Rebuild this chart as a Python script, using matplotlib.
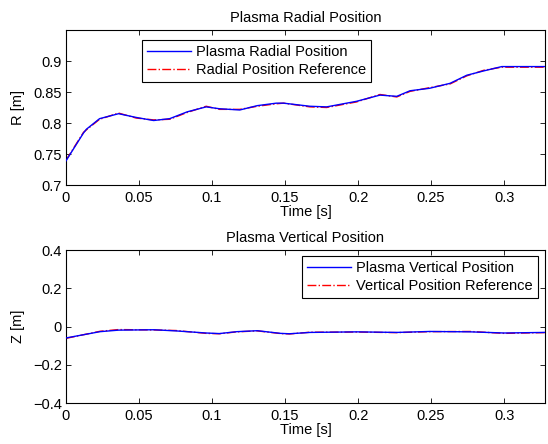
import matplotlib
matplotlib.use("Agg")
import matplotlib.pyplot as plt

plt.rcParams['font.family'] = ['Liberation Sans', 'DejaVu Sans']

# Radial position data
t_r = [0.0, 0.012, 0.014, 0.023, 0.036, 0.048, 0.060, 0.071, 0.083, 0.096,
       0.105, 0.119, 0.131, 0.144, 0.149, 0.167, 0.1785, 0.199, 0.215, 0.2265,
       0.2356, 0.249, 0.263, 0.2744, 0.286, 0.2984, 0.328]
r_meas = [0.739, 0.784, 0.790, 0.807, 0.815, 0.809, 0.804, 0.807, 0.818, 0.826,
          0.823, 0.821, 0.828, 0.832, 0.832, 0.827, 0.826, 0.835, 0.845, 0.843,
          0.852, 0.856, 0.864, 0.877, 0.884, 0.891, 0.891]
r_ref = [0.740, 0.785, 0.789, 0.806, 0.816, 0.808, 0.805, 0.806, 0.817, 0.827,
         0.822, 0.822, 0.827, 0.831, 0.832, 0.826, 0.825, 0.834, 0.846, 0.842,
         0.851, 0.857, 0.863, 0.876, 0.885, 0.890, 0.890]

# Vertical position data
t_z = [0.0, 0.0233, 0.036, 0.060, 0.0753, 0.096, 0.105, 0.117, 0.131, 0.147,
       0.153, 0.167, 0.199, 0.2265, 0.249, 0.277, 0.300, 0.328]
z_meas = [-0.060, -0.027, -0.019, -0.017, -0.023, -0.034, -0.037, -0.027, -0.022, -0.036,
          -0.038, -0.031, -0.028, -0.031, -0.026, -0.028, -0.034, -0.031]
z_ref = [-0.062, -0.025, -0.016, -0.018, -0.021, -0.036, -0.038, -0.028, -0.023, -0.037,
         -0.039, -0.030, -0.029, -0.032, -0.027, -0.026, -0.036, -0.032]

xticks = [0, 0.05, 0.1, 0.15, 0.2, 0.25, 0.3]
xticklabels = ['0', '0.05', '0.1', '0.15', '0.2', '0.25', '0.3']
r_ticks = [0.7, 0.75, 0.8, 0.85, 0.9]
r_ticklabels = ['0.7', '0.75', '0.8', '0.85', '0.9']
z_ticks = [-0.4, -0.2, 0, 0.2, 0.4]
z_ticklabels = ['\u22120.4', '\u22120.2', '0', '0.2', '0.4']

fig = plt.figure(figsize=(5.48, 4.44), dpi=100)
W, H = 548, 444
ax1 = fig.add_axes([66 / W, 1 - 185 / H, 479 / W, 155 / H])
ax2 = fig.add_axes([66 / W, 1 - 403 / H, 479 / W, 153 / H])

fs = 10.5
for ax in (ax1, ax2):
    ax.tick_params(direction='in', top=True, right=True, length=3.5, width=0.6,
                   labelsize=fs, pad=3)
    ax.tick_params(axis='x', pad=4)
    for s in ax.spines.values():
        s.set_linewidth(0.8)
    ax.set_xlim(0, 0.328)
    ax.set_xticks(xticks)
    ax.set_xticklabels(xticklabels)
    ax.set_xlabel('Time [s]', fontsize=fs, labelpad=0)

leg_kw = dict(fontsize=fs, frameon=True, fancybox=False, edgecolor='black',
              framealpha=1, borderpad=0.35, handlelength=3.0, handletextpad=0.35,
              labelspacing=0.25, borderaxespad=0)

ax1.plot(t_r, r_meas, color='blue', lw=1.0, label='Plasma Radial Position', zorder=3)
ax1.plot(t_r, r_ref, color='red', lw=1.0, ls='-.', label='Radial Position Reference', zorder=2)
ax1.set_ylim(0.7, 0.95)
ax1.set_yticks(r_ticks)
ax1.set_yticklabels(r_ticklabels)
ax1.set_ylabel('R [m]', fontsize=fs, labelpad=6)
ax1.set_title('Plasma Radial Position', fontsize=fs, pad=6)
leg1 = ax1.legend(loc='upper left', bbox_to_anchor=(0.1587, 0.935), **leg_kw)
leg1.get_frame().set_linewidth(0.8)

ax2.plot(t_z, z_meas, color='blue', lw=1.0, label='Plasma Vertical Position', zorder=3)
ax2.plot(t_z, z_ref, color='red', lw=1.0, ls='-.', label='Vertical Position Reference', zorder=2)
ax2.set_ylim(-0.4, 0.4)
ax2.set_yticks(z_ticks)
ax2.set_yticklabels(z_ticklabels)
ax2.set_ylabel('Z [m]', fontsize=fs, labelpad=6)
ax2.set_title('Plasma Vertical Position', fontsize=fs, pad=6)
leg2 = ax2.legend(loc='upper right', bbox_to_anchor=(0.985, 0.961), **leg_kw)
leg2.get_frame().set_linewidth(0.8)

fig.savefig('out.png', dpi=100)
